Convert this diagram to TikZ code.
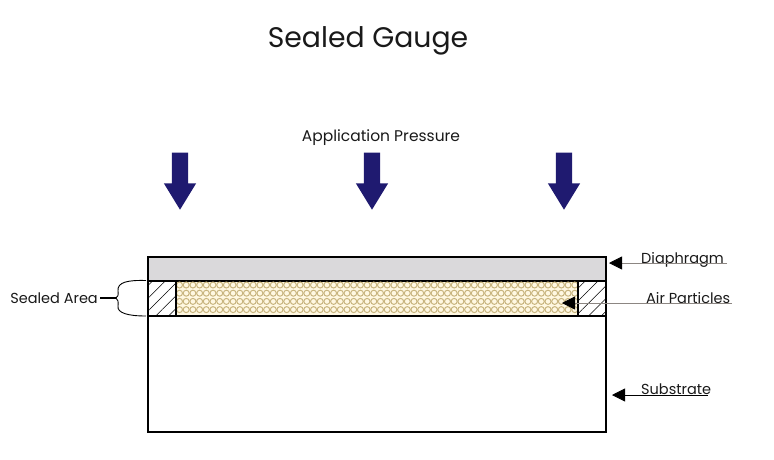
\documentclass[tikz,border=0pt]{standalone}
\usepackage{fontspec}
\setmainfont{Poppins}
\usetikzlibrary{shapes.arrows,arrows.meta,patterns.meta}
\definecolor{pressblue}{HTML}{1F1A70}
\definecolor{diagrey}{HTML}{DAD9DB}
\definecolor{aircream}{HTML}{FFF8E2}
\definecolor{airtan}{HTML}{C8B47E}
\definecolor{leadgrey}{HTML}{8C8682}

\begin{document}
\begin{tikzpicture}[
  x=1pt, y=-1pt,
  every node/.style={font=\fontsize{14.5}{16}\selectfont, inner sep=0pt, text=black!90},
  layerbox/.style={draw=black, line width=1.5pt, anchor=north west, outer sep=0pt, minimum width=#1},
  pressarrow/.style={single arrow, fill=pressblue, shape border rotate=270, minimum height=57pt,
    minimum width=32pt, single arrow head extend=8pt, single arrow tip angle=63, inner sep=8pt},
  sealbox/.style={layerbox=28pt, minimum height=35pt, pattern={Lines[angle=45,distance=9pt,line width=0.5pt]}},
  particle/.style={draw=airtan, line width=1pt},
  leadarrow/.style={-{Triangle[length=13pt,width=13pt,color=black]}, line width=0.8pt},
]
\useasboundingbox (0,0) rectangle (774,459);

\node[font=\fontsize{28.3}{32}\selectfont] (title) at (368,40.5) {Sealed Gauge};
\node[font=\fontsize{15.5}{18}\selectfont] (pressure) at (381,137.5) {Application Pressure};

\node[pressarrow] (pressleft) at (180,174.5) {};
\node[pressarrow] (pressmid) at (372,174.5) {};
\node[pressarrow] (pressright) at (564,174.5) {};

% layers of the gauge
\node[layerbox=458pt, minimum height=175pt] (substrate) at (148,257) {};
\node[layerbox=458pt, minimum height=24pt, fill=diagrey] (diaphragm) at (148,257) {};
\node[layerbox=402pt, minimum height=35pt, fill=aircream] (air) at (176,281) {};

\foreach \row in {285,293.2,301.4,309.6}
  \foreach \col in {0,...,59}
    \draw[particle] ({179.5+\col*6.7},\row) circle (3);

\node[sealbox] (sealleft) at (148,281) {};
\node[sealbox] (sealright) at (578,281) {};

% labels on the right
\node[anchor=base west] (diaphragmlabel) at (641,263) {Diaphragm};
\node[anchor=base west] (airlabel) at (646,303) {Air Particles};
\node[anchor=base west] (substratelabel) at (641,394) {Substrate};

\coordinate (diaphragmend) at (727,263);
\coordinate (diaphragmtip) at (609,263);
\coordinate (airend) at (732,303);
\coordinate (airtip) at (562,303);
\coordinate (substrateend) at (708,395);
\coordinate (substratetip) at (612,395);

\draw[leadarrow, draw=leadgrey] (diaphragmend) -- (diaphragmtip);
\draw[leadarrow, draw=leadgrey] (airend) -- (airtip);
\draw[leadarrow, draw=black] (substrateend) -- (substratetip);

% brace on the left
\node[anchor=east] (sealedlabel) at (98,298) {Sealed Area};
\coordinate (bracetop) at (146,280.5);
\coordinate (bracemid) at (116,298);
\coordinate (bracelow) at (146,316);
\draw[line width=0.9pt] (bracetop) .. controls (128,280) and (117,282) .. (118,291)
  .. controls (118.5,295) and (118,297) .. (bracemid)
  .. controls (118,299) and (118.5,302) .. (118,306)
  .. controls (117,313) and (128,316) .. (bracelow);
\draw[line width=1.3pt] (sealedlabel.east) ++(2,0) -- (bracemid);
\end{tikzpicture}
\end{document}
